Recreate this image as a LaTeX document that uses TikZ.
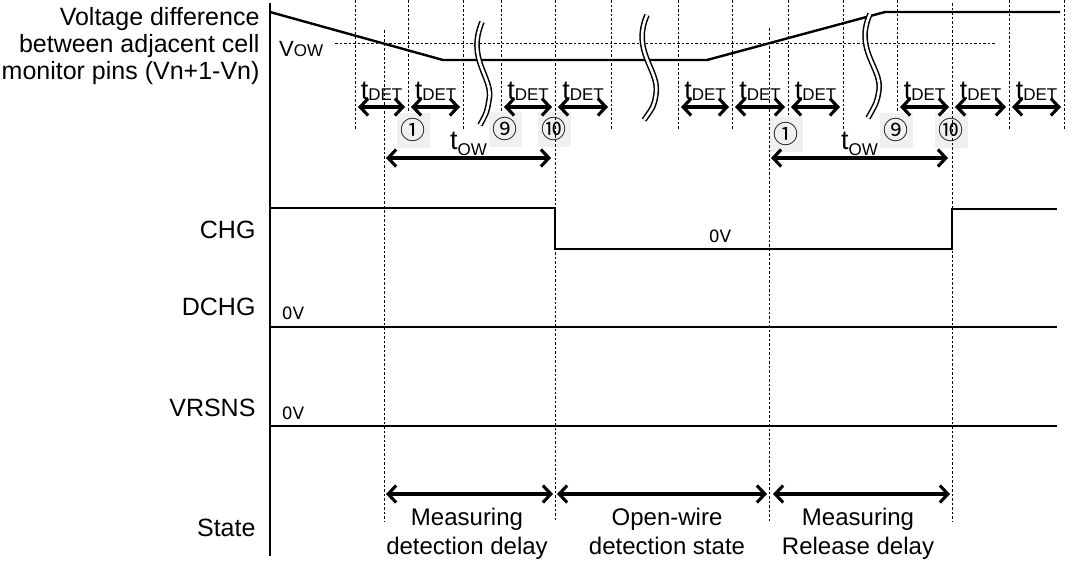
\documentclass[tikz,border=0pt]{standalone}
\usepackage{fontspec}
\setmainfont{Liberation Sans}
\newfontfamily\numfont{Noto Sans CJK SC}
\newfontfamily\zerofont{DejaVu Sans}
\usetikzlibrary{arrows.meta}
\usetikzlibrary{calc}
\tikzset{sig/.style={line width=2.4pt}}
\tikzset{grid/.style={line width=0.8pt, dash pattern=on 2.5pt off 2pt}}
\tikzset{span/.style={line width=3.1pt, {Straight Barb[length=8pt,width=17pt]}-{Straight Barb[length=8pt,width=17pt]}}}
\tikzset{brk/.style={double, double distance=2.6pt, line width=1.5pt}}
\tikzset{numbox/.style={fill=black!6, minimum width=33pt, minimum height=35pt, inner sep=0pt, font=\numfont\fontsize{25}{25}\selectfont}}
\tikzset{lbl/.style={anchor=east, align=right, font=\fontsize{25}{27}\selectfont}}
\tikzset{zero/.style={font=\zerofont\fontsize{17}{17}\selectfont}}
\tikzset{statetxt/.style={anchor=north, align=center, font=\fontsize{24}{29}\selectfont}}
\newcommand{\tsub}[2]{\fontsize{27}{27}\selectfont t\raisebox{#2}{\fontsize{17}{17}\selectfont #1}}

\begin{document}
\begin{tikzpicture}[x=1pt, y=-1pt]
\useasboundingbox (0,0) rectangle (1075,563);

% signal names
\node [lbl] (vdiff) at (263,46) {Voltage difference\\between adjacent cell\\monitor pins (Vn+1-Vn)};
\node [lbl] (chg) at (259,230) {CHG};
\node [lbl] (dchg) at (259,307) {DCHG};
\node [lbl] (vrsns) at (259,408) {VRSNS};
\node [lbl] (state) at (259,528) {State};

% timing grid
\foreach \x [count=\i] in {355,408,463,501,555,611,678,732,788,843,897,952,1009,1064}
  \coordinate (c\i) at (\x,0);
\foreach \i in {1,2,3,4,6,7,8,9,10,11,13,14}
  \draw [grid] (c\i) -- ++(0,130);
\draw [grid] (335,43) -- (995,43);
\node [anchor=base west, inner sep=0pt] (vow) at (279,56) {\fontsize{22}{22}\selectfont V\fontsize{17}{17}\selectfont OW};

% numbered samples
\node [numbox] (n1a) at (413,130) {①};
\node [numbox] (n9a) at (505,129) {⑨};
\node [numbox] (n10a) at (554,129) {⑩};
\node [numbox] (n1b) at (786,134) {①};
\node [numbox] (n9b) at (896,130) {⑨};
\node [numbox] (n10b) at (951,130) {⑩};

% long marks down to the state row
\coordinate (s1) at (384,30);
\coordinate (s2) at (555,0);
\coordinate (s3) at (769,28);
\coordinate (s4) at (952,3);
\foreach \i in {1,...,4}
  \draw [grid] (s\i) -- (s\i |- 0,521);

% cell voltage
\draw [sig] (270,12) -- (443,60) -- (707,60) -- (885,12) -- (1060,12);

% break marks
\draw [brk] (482,22) .. controls (466,60) and (494,78) .. (489,100) .. controls (487,112) .. (480,125);
\draw [brk] (647,15) .. controls (631,52) and (660,70) .. (656,94) .. controls (654,106) .. (644,120);
\draw [brk] (870,14) .. controls (854,50) and (882,68) .. (879,90) .. controls (877,102) .. (868,118);

% t_DET spans
\foreach \a/\b in {1/2,2/3,4/5,5/6,7/8,8/9,9/10,11/12,12/13,13/14}
  \draw [span] ($(c\a)+(3,107)$) -- ($(c\b)+(-3,107)$)
    node [midway, anchor=base, yshift=8pt, inner sep=0pt] {\tsub{DET}{-1pt}};

% t_OW spans
\draw [span] ([xshift=2pt]s1 |- 0,158) -- ([xshift=-4pt]s2 |- 0,158)
  node [midway, anchor=base, yshift=9pt, inner sep=0pt] {\tsub{OW}{-6pt}};
\draw [span] ([xshift=2pt]s3 |- 0,158) -- ([xshift=-4pt]s4 |- 0,158)
  node [midway, anchor=base, yshift=9pt, inner sep=0pt] {\tsub{OW}{-6pt}};

% CHG / DCHG / VRSNS
\draw [sig] (270,208) -- (555,208) -- (555,249) -- (952,249) -- (952,209) -- (1057,209);
\node [zero] (chg0) at (720,236) {0V};
\draw [sig] (270,327) -- (1057,327);
\node [zero] (dchg0) at (293,313) {0V};
\draw [sig] (270,426) -- (1057,426);
\node [zero] (vrsns0) at (293,413) {0V};

% axis
\draw [line width=1.8pt] (270,3) -- (270,556);

% state row
\draw [span] ([xshift=2pt]s1 |- 0,494) -- ([xshift=-2pt]s2 |- 0,494);
\draw [span] ([xshift=2pt]s2 |- 0,494) -- ([xshift=-2pt]s3 |- 0,494);
\draw [span] ([xshift=4pt]s3 |- 0,494) -- ([xshift=-2pt]s4 |- 0,494);
\node [statetxt] (meas) at (467,505) {Measuring\\detection delay};
\node [statetxt] (open) at (667,505) {Open-wire\\detection state};
\node [statetxt] (rel) at (858,505) {Measuring\\Release delay};
\end{tikzpicture}
\end{document}
